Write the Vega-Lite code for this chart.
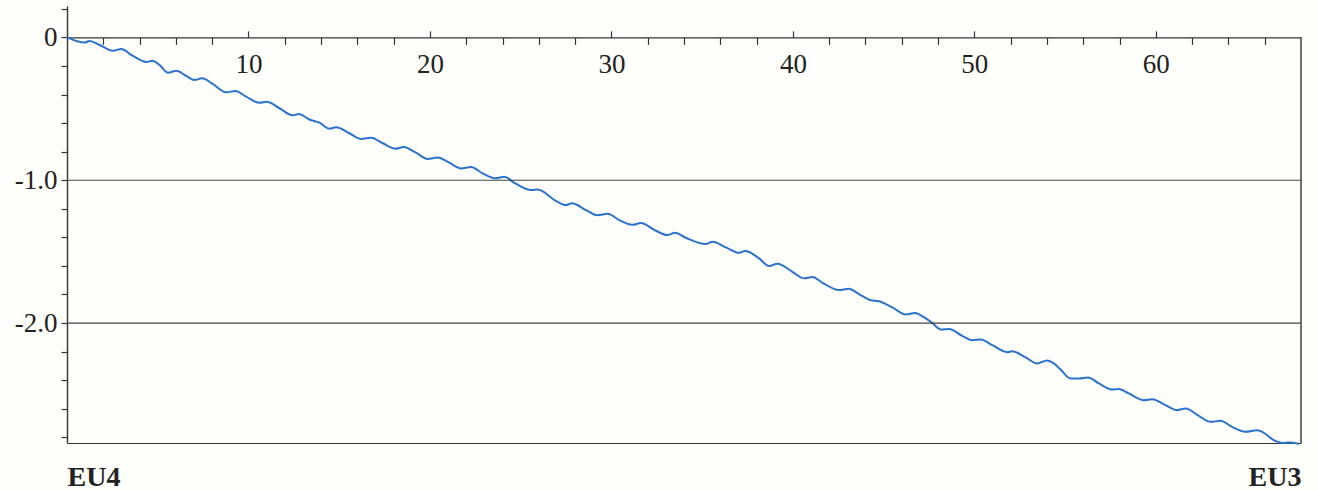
{
  "$schema": "https://vega.github.io/schema/vega-lite/v6.json",
  "width": 1234,
  "height": 437,
  "autosize": {"type": "none"},
  "padding": {"left": 67, "top": 6, "right": 17, "bottom": 48},
  "background": "#fefefa",
  "config": {
    "view": {"stroke": null},
    "axis": {"labelFont": "Liberation Serif", "labelColor": "#222", "domainColor": "#333", "tickColor": "#333", "grid": false, "title": null, "labelOverlap": false}
  },
  "datasets": {
    "curve": [
      {"pos": 0, "val": 0}, {"pos": 0.97, "val": -0.036}, {"pos": 1.24, "val": -0.025}, {"pos": 1.8, "val": -0.053},
      {"pos": 2.53, "val": -0.093}, {"pos": 2.99, "val": -0.081}, {"pos": 3.63, "val": -0.13}, {"pos": 4.37, "val": -0.172},
      {"pos": 4.7, "val": -0.163}, {"pos": 5.1, "val": -0.193}, {"pos": 5.56, "val": -0.247}, {"pos": 6.02, "val": -0.233},
      {"pos": 6.57, "val": -0.27}, {"pos": 7.03, "val": -0.298}, {"pos": 7.45, "val": -0.286}, {"pos": 8.03, "val": -0.326},
      {"pos": 8.77, "val": -0.384}, {"pos": 9.28, "val": -0.375}, {"pos": 9.87, "val": -0.415}, {"pos": 10.61, "val": -0.457},
      {"pos": 11.01, "val": -0.45}, {"pos": 11.71, "val": -0.496}, {"pos": 12.44, "val": -0.545}, {"pos": 12.77, "val": -0.536},
      {"pos": 13.36, "val": -0.575}, {"pos": 13.91, "val": -0.597}, {"pos": 14.46, "val": -0.639}, {"pos": 14.83, "val": -0.629},
      {"pos": 15.56, "val": -0.671}, {"pos": 16.21, "val": -0.711}, {"pos": 16.76, "val": -0.702}, {"pos": 17.4, "val": -0.741},
      {"pos": 18.13, "val": -0.779}, {"pos": 18.54, "val": -0.767}, {"pos": 19.23, "val": -0.807}, {"pos": 19.87, "val": -0.851},
      {"pos": 20.42, "val": -0.84}, {"pos": 21.07, "val": -0.877}, {"pos": 21.71, "val": -0.917}, {"pos": 22.26, "val": -0.907},
      {"pos": 22.9, "val": -0.952}, {"pos": 23.64, "val": -0.987}, {"pos": 24.1, "val": -0.975}, {"pos": 24.65, "val": -1.018},
      {"pos": 25.57, "val": -1.069}, {"pos": 25.93, "val": -1.065}, {"pos": 26.94, "val": -1.144}, {"pos": 27.49, "val": -1.174},
      {"pos": 27.82, "val": -1.162}, {"pos": 28.6, "val": -1.209}, {"pos": 29.23, "val": -1.246}, {"pos": 29.79, "val": -1.235},
      {"pos": 30.43, "val": -1.279}, {"pos": 31.16, "val": -1.312}, {"pos": 31.62, "val": -1.3}, {"pos": 32.45, "val": -1.354},
      {"pos": 33.09, "val": -1.384}, {"pos": 33.51, "val": -1.368}, {"pos": 34.1, "val": -1.403}, {"pos": 35.2, "val": -1.447},
      {"pos": 35.57, "val": -1.431}, {"pos": 36.31, "val": -1.47}, {"pos": 37.04, "val": -1.508}, {"pos": 37.37, "val": -1.496},
      {"pos": 38.14, "val": -1.547}, {"pos": 38.69, "val": -1.601}, {"pos": 39.15, "val": -1.585}, {"pos": 39.97, "val": -1.641},
      {"pos": 40.62, "val": -1.687}, {"pos": 41.07, "val": -1.678}, {"pos": 41.63, "val": -1.718}, {"pos": 42.54, "val": -1.769},
      {"pos": 43.06, "val": -1.76}, {"pos": 43.64, "val": -1.797}, {"pos": 44.29, "val": -1.84}, {"pos": 44.75, "val": -1.847},
      {"pos": 45.48, "val": -1.891}, {"pos": 46.22, "val": -1.94}, {"pos": 46.73, "val": -1.929}, {"pos": 47.32, "val": -1.968},
      {"pos": 47.68, "val": -1.999}, {"pos": 48.15, "val": -2.045}, {"pos": 48.61, "val": -2.041}, {"pos": 49.33, "val": -2.09},
      {"pos": 49.88, "val": -2.12}, {"pos": 50.35, "val": -2.115}, {"pos": 50.99, "val": -2.155}, {"pos": 51.81, "val": -2.204},
      {"pos": 52.09, "val": -2.197}, {"pos": 52.83, "val": -2.241}, {"pos": 53.46, "val": -2.283}, {"pos": 54.01, "val": -2.262},
      {"pos": 54.38, "val": -2.283}, {"pos": 54.75, "val": -2.325}, {"pos": 55.3, "val": -2.388}, {"pos": 55.76, "val": -2.388},
      {"pos": 56.27, "val": -2.381}, {"pos": 56.86, "val": -2.423}, {"pos": 57.6, "val": -2.465}, {"pos": 57.96, "val": -2.461},
      {"pos": 58.51, "val": -2.493}, {"pos": 59.34, "val": -2.54}, {"pos": 59.8, "val": -2.533}, {"pos": 60.53, "val": -2.575},
      {"pos": 61.17, "val": -2.61}, {"pos": 61.64, "val": -2.598}, {"pos": 62.37, "val": -2.65}, {"pos": 63.01, "val": -2.692},
      {"pos": 63.56, "val": -2.685}, {"pos": 64.2, "val": -2.727}, {"pos": 64.94, "val": -2.762}, {"pos": 65.58, "val": -2.75},
      {"pos": 65.86, "val": -2.762}, {"pos": 66.59, "val": -2.826}, {"pos": 66.96, "val": -2.84}, {"pos": 67.33, "val": -2.836},
      {"pos": 67.88, "val": -2.845}
    ],
    "border": [{"edge": 68, "from": 0, "to": -2.84}],
    "levels": [{"level": -1, "start": 0, "end": 68}, {"level": -2, "start": 0, "end": 68}]
  },
  "layer": [
    {
      "data": {"name": "curve"},
      "mark": {"type": "line", "color": "#2a72cc", "strokeWidth": 2, "clip": false, "interpolate": "monotone"},
      "encoding": {
        "x": {
          "field": "pos", "type": "quantitative",
          "scale": {"domain": [0, 68], "nice": false, "zero": false},
          "axis": {
            "orient": "bottom", "offset": -405.6,
            "values": [2, 4, 6, 8, 12, 14, 16, 18, 22, 24, 26, 28, 32, 34, 36, 38, 42, 44, 46, 48, 52, 54, 56, 58, 62, 64, 66],
            "tickSize": 7, "tickWidth": 1.2, "labels": false, "domain": true, "domainWidth": 1.2
          }
        },
        "y": {
          "field": "val", "type": "quantitative",
          "scale": {"domain": [-2.84, 0.22], "nice": false, "zero": false},
          "axis": {
            "orient": "left",
            "values": [0.2, 0, -0.2, -0.4, -0.6, -0.8, -1, -1.2, -1.4, -1.6, -1.8, -2, -2.2, -2.4, -2.6, -2.8],
            "tickSize": 6, "tickWidth": 1.2, "domainWidth": 1.4,
            "labelFontSize": 27, "labelPadding": 4, "labelBaseline": "middle",
            "labelExpr": "abs(datum.value - round(datum.value)) < 0.001 ? (abs(datum.value) < 0.001 ? '0' : '-' + format(abs(datum.value), '.1f')) : ''"
          }
        }
      }
    },
    {
      "data": {"name": "border"},
      "mark": {"type": "rule", "color": "#333", "strokeWidth": 1.4},
      "encoding": {
        "x": {
          "field": "edge", "type": "quantitative",
          "scale": {"domain": [0, 68], "nice": false, "zero": false},
          "axis": {
            "orient": "bottom", "offset": -405.6,
            "values": [10, 20, 30, 40, 50, 60],
            "tickSize": -6.5, "tickWidth": 1.2, "domain": false,
            "labelFontSize": 27, "labelPadding": 21
          }
        },
        "y": {"field": "from", "type": "quantitative", "scale": {"domain": [-2.84, 0.22], "nice": false, "zero": false}, "axis": null},
        "y2": {"field": "to"}
      }
    },
    {
      "data": {"name": "levels"},
      "mark": {"type": "rule", "color": "#444", "strokeWidth": 1.2},
      "encoding": {
        "x": {
          "field": "start", "type": "quantitative",
          "scale": {"domain": [0, 68], "nice": false, "zero": false},
          "axis": {
            "orient": "bottom", "values": [0, 68], "ticks": false, "domain": true, "domainWidth": 1.2,
            "labelFlush": true, "labelFontSize": 28, "labelFontWeight": "bold", "labelColor": "#222", "labelPadding": 20,
            "labelExpr": "datum.value == 0 ? 'EU4' : 'EU3'"
          }
        },
        "x2": {"field": "end"},
        "y": {"field": "level", "type": "quantitative", "scale": {"domain": [-2.84, 0.22], "nice": false, "zero": false}, "axis": null}
      }
    }
  ],
  "resolve": {"axis": {"x": "independent", "y": "independent"}}
}
